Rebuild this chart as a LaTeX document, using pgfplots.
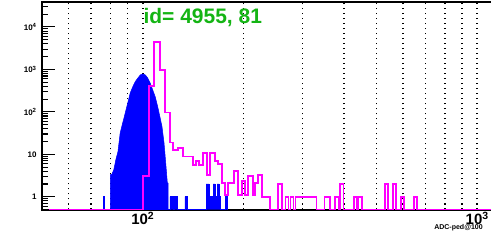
\documentclass[border=0pt]{standalone}
\usepackage{fontspec}
\setmainfont{Liberation Sans}
\usepackage{pgfplots}
\pgfplotsset{compat=1.18}
\definecolor{rootgreen}{RGB}{20,180,20}
\definecolor{rootmag}{RGB}{255,0,255}
\definecolor{rootblue}{RGB}{0,0,255}
\begin{document}
\begin{tikzpicture}
\begin{axis}[
  scale only axis, width=449bp, height=207bp,
  xmode=log, ymode=log,
  xmin=50, xmax=1109, ymin=0.5, ymax=38700,
  clip=false,
  axis line style={line width=2bp},
  xtick={100,1000}, xticklabels={10\textsuperscript{2},10\textsuperscript{3}},
  minor xtick={60,70,80,90,200,300,400,500,600,700,800,900},
  ytick={1,10,100,1000,10000},
  yticklabels={1,10,10\textsuperscript{2},10\textsuperscript{3},10\textsuperscript{4}},
  minor ytick={0.6,0.7,0.8,0.9,2,3,4,5,6,7,8,9,20,30,40,50,60,70,80,90,200,300,400,500,600,700,800,900,2000,3000,4000,5000,6000,7000,8000,9000,20000,30000},
  xtick pos=bottom, ytick pos=left,
  tick align=inside,
  major tick length=13bp, minor tick length=6bp,
  xtick style={draw=none},
  ytick style={line width=1.1bp, black},
  xmajorgrids=true, xminorgrids=true,
  major grid style={black, line width=1.5bp, dash pattern=on 1.5bp off 3.5bp},
  minor grid style={black, line width=1.5bp, dash pattern=on 1.5bp off 3.5bp},
  xticklabel style={font=\fontsize{15}{15}\selectfont\bfseries, yshift=1bp},
  yticklabel style={font=\fontsize{8}{8}\selectfont\bfseries, xshift=-2bp},
]
% blue peak: bin contents at bin centres (closed along the bottom)
\addplot[sharp plot, fill=rootblue, draw=rootblue, line width=0.5bp] coordinates {
(80.0,0.5)(80.0,3.3)(80.7,3.3)(81.9,4.3)(83.05,7.4)(84.3,11.6)(85.6,32)(87.1,55)(88.65,95)(90.2,163)(91.75,280)(93.35,390)(94.95,515)(96.6,620)(98.3,740)(100.0,780)(101.75,740)(103.4,630)(105.2,480)(107.05,330)(108.9,228)(110.8,133)(112.45,78)(114.15,45)(115.75,18.6)(117.1,6.3)(118.45,2.1)(119.1,2.1)(119.1,0.5)
};
% blue isolated entries
\addplot[sharp plot, fill=rootblue, draw=rootblue, line width=0.5bp] coordinates {
(76.1,0.5)(76.1,1)(76.9,1)(76.9,0.5)(120.5,0.5)(120.5,1)(123.0,1)(123.0,0.5)(123.9,0.5)(123.9,1)(126.5,1)(126.5,0.5)(133.7,0.5)(133.7,1)(135.6,1)(135.6,0.5)(154.6,0.5)(154.6,2)(157.8,2)(157.8,1)(162.3,1)(162.3,2)(164.5,2)(164.5,1)(166.8,1)(166.8,2)(169.1,2)(169.1,1)(170.3,1)(170.3,0.5)(176.3,0.5)(176.3,1)(178.8,1)(178.8,0.5)
};
\addplot[const plot, draw=rootmag, line width=1.8bp] coordinates {
(52.6,0.5)(100.3,3.1)(104.2,410)(108.2,4400)(112.5,970)(116.4,96)(120.5,19)(123.2,12.7)(127.4,14)(131.9,8.9)(141.3,5.7)(144.3,7.1)(147.3,5.7)(151.4,10.6)(155.7,3.3)(158.9,10.6)(164.5,7.1)(168.0,6.0)(172.7,2.1)(176.3,1.1)(180.0,2.1)(187.6,4.1)(192.9,1.1)(198.3,2.3)(202.4,1.1)(206.7,3.1)(213.9,1.1)(217.0,2.1)(221.5,3.3)(227.8,1)(240.7,0.5)(254.4,2)(261.5,0.5)(267.0,1)(272.6,0.5)(276.4,1)(282.2,0.5)(286.1,1)(330.7,0.5)(349.5,1)(362.0,0.5)(374.7,1)(385.1,0.5)(387.8,2)(398.6,0.5)(427.2,1)(436.2,0.5)(439.2,1)(451.6,0.5)(529.2,2)(540.3,0.5)(559.4,2)(571.2,0.5)(591.3,1)(603.7,0.5)(646.9,1)(660.4,0.5)(1109,0.5)
};
\node[anchor=north west, inner sep=0, font=\fontsize{21}{21}\selectfont\bfseries, text=rootgreen] at (rel axis cs:0.225,0.971) {id= 4955, 81};
\node[anchor=north west, inner sep=0, font=\fontsize{7}{7}\selectfont\bfseries, yshift=-15bp] at (rel axis cs:0.871,0) {ADC-ped@100};
\end{axis}
\pgfresetboundingbox
\path[use as bounding box] ([xshift=-42bp,yshift=-35bp]current axis.south west) rectangle ([xshift=-1.2bp,yshift=2bp]current axis.north east);
\end{tikzpicture}
\end{document}
